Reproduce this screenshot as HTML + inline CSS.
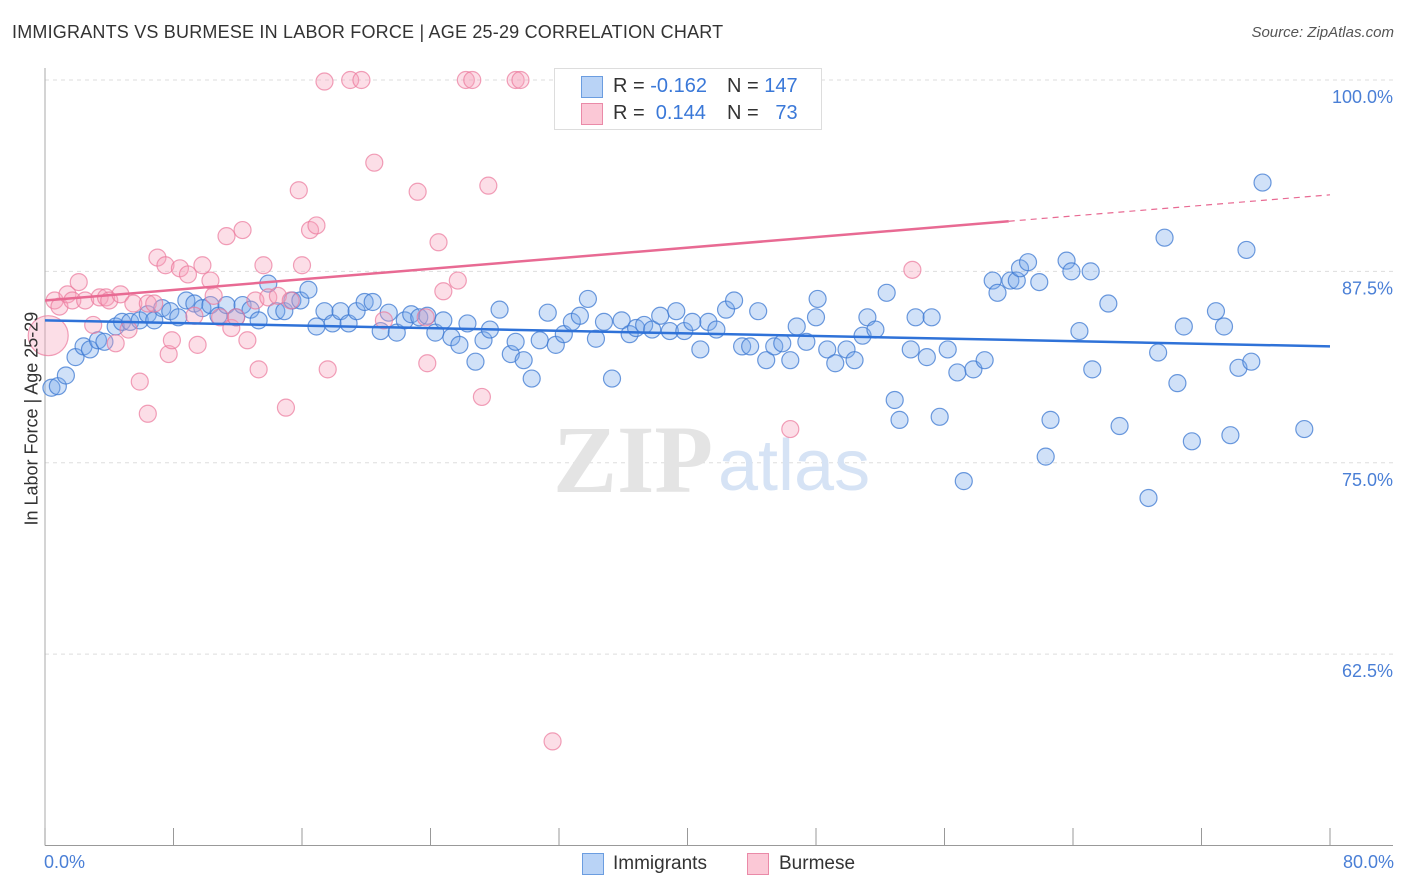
<!DOCTYPE html>
<html><head><meta charset="utf-8"><style>
body{margin:0;background:#fff;font-family:"Liberation Sans",sans-serif;}
#wrap{position:relative;width:1406px;height:892px;overflow:hidden}
.t{position:absolute;white-space:nowrap}
</style></head><body>
<div id="wrap">
<div class="t" style="left:12px;top:22px;font-size:18px;color:#333;letter-spacing:0.2px">IMMIGRANTS VS BURMESE IN LABOR FORCE | AGE 25-29 CORRELATION CHART</div>
<div class="t" style="right:12px;top:24px;font-size:15px;color:#555;font-style:italic">Source: ZipAtlas.com</div>
<svg id="svg" width="1406" height="892" style="position:absolute;left:0;top:0"></svg>
</div>
<script>
const xTicks=[0,8,16,24,32,40,48,56,64,72,80];
const yTicks=[100,87.5,75,62.5];
const yTickLabels=["100.0%","87.5%","75.0%","62.5%"];
const blueX=[0.4,0.8,1.3,1.9,2.4,2.8,3.3,3.7,4.4,4.8,5.3,5.9,6.4,6.8,7.3,7.8,8.3,8.8,9.3,9.8,10.3,10.8,11.3,11.9,12.3,12.8,13.3,13.9,14.4,14.9,15.4,15.9,16.4,16.9,17.4,17.9,18.4,18.9,19.4,19.9,20.4,20.9,21.4,21.9,22.4,22.8,23.3,23.8,24.3,24.8,25.3,25.8,26.3,26.8,27.3,27.7,28.3,29.0,29.3,29.8,30.3,30.8,31.3,31.8,32.3,32.8,33.3,33.8,34.3,34.8,35.3,35.9,36.4,36.8,37.3,37.8,38.3,38.9,39.3,39.8,40.3,40.8,41.3,41.8,42.4,42.9,43.4,43.9,44.4,44.9,45.4,45.9,46.4,46.8,47.4,48.1,48.0,48.7,49.2,49.9,50.4,50.9,51.2,51.7,52.4,52.9,53.2,53.9,54.2,54.9,55.2,55.7,56.2,56.8,57.2,57.8,58.5,59.0,59.3,60.1,60.5,60.7,61.2,61.9,62.3,62.6,63.6,63.9,64.4,65.1,65.2,66.2,66.9,68.7,69.3,69.7,70.5,70.9,71.4,72.9,73.4,73.8,74.3,74.8,75.1,75.8,78.4];
const blueY=[79.9,80.0,80.7,81.9,82.6,82.4,83.0,82.9,83.9,84.2,84.2,84.3,84.7,84.3,85.1,84.9,84.5,85.6,85.4,85.1,85.3,84.6,85.3,84.5,85.3,85.0,84.3,86.7,84.9,84.9,85.6,85.6,86.3,83.9,84.9,84.1,84.9,84.1,84.9,85.5,85.5,83.6,84.8,83.5,84.3,84.7,84.5,84.6,83.5,84.3,83.2,82.7,84.1,81.6,83.0,83.7,85.0,82.1,82.9,81.7,80.5,83.0,84.8,82.7,83.4,84.2,84.6,85.7,83.1,84.2,80.5,84.3,83.4,83.8,84.0,83.7,84.6,83.6,84.9,83.6,84.2,82.4,84.2,83.7,85.0,85.6,82.6,82.6,84.9,81.7,82.6,82.8,81.7,83.9,82.9,85.7,84.5,82.4,81.5,82.4,81.7,83.3,84.5,83.7,86.1,79.1,77.8,82.4,84.5,81.9,84.5,78.0,82.4,80.9,73.8,81.1,81.7,86.9,86.1,86.9,86.9,87.7,88.1,86.8,75.4,77.8,88.2,87.5,83.6,87.5,81.1,85.4,77.4,72.7,82.2,89.7,80.2,83.9,76.4,84.9,83.9,76.8,81.2,88.9,81.6,93.3,77.2];
const pinkX=[0.2,0.6,0.9,1.4,1.7,2.1,2.5,3.0,3.4,3.8,4.0,4.4,4.7,5.2,5.5,5.9,6.4,6.4,6.8,7.0,7.5,7.7,7.9,8.4,8.9,9.3,9.5,9.8,10.3,10.5,10.9,11.3,11.6,11.9,12.3,12.6,13.1,13.3,13.6,13.9,14.5,15.0,15.3,15.8,16.0,16.5,16.9,17.4,17.6,19.0,19.7,20.5,21.1,23.2,23.7,23.8,24.5,24.8,25.7,26.2,26.6,27.2,27.6,29.3,29.6,31.6,46.4,54.0];
const pinkY=[83.3,85.6,85.2,86.0,85.6,86.8,85.6,84.0,85.8,85.8,85.6,82.8,86.0,83.7,85.4,80.3,78.2,85.4,85.4,88.4,87.9,82.1,83.0,87.7,87.3,84.6,82.7,87.9,86.9,85.9,84.5,89.8,83.8,84.5,90.2,83.0,85.6,81.1,87.9,85.8,85.9,78.6,85.6,92.8,87.9,90.2,90.5,99.9,81.1,100,100,94.6,84.3,92.7,84.5,81.5,89.4,86.2,86.9,100,100,79.3,93.1,100,100,56.8,77.2,87.6];
const blueTrend=[84.3,82.6]; // y at x=0, x=80
const pinkTrend=[85.6,92.5];  // y at x=0, x=80
const pinkSolidEnd=60;

const NS="http://www.w3.org/2000/svg";
const svg=document.getElementById('svg');
const X0=45,X1=1330,YT=80,YB=845.5;
const sx=v=>X0+(v/80)*(X1-X0);
const sy=v=>YT+(100-v)/50*(YB-YT);
function mk(tag,attrs,parent){const e=document.createElementNS(NS,tag);for(const k in attrs)e.setAttribute(k,attrs[k]);(parent||svg).appendChild(e);return e;}

// gridlines
yTicks.forEach((v,i)=>{
  const g=mk('line',{x1:X0,x2:1393,y1:sy(v),y2:sy(v),stroke:'#ddd','stroke-dasharray':'4,4'});
  
  
  const t=mk('text',{x:1393,y:sy(v)+23,'text-anchor':'end','font-size':18,fill:'#4a7fd6','font-family':'Liberation Sans, sans-serif'});
  t.textContent=yTickLabels[i];
  
  
});
// axes
const ax=mk('line',{x1:X0,x2:1393,y1:YB,y2:YB,stroke:'#999'});


const ay=mk('line',{x1:X0,x2:X0,y1:68,y2:YB,stroke:'#aaa'});


xTicks.forEach(v=>{
  const l=mk('line',{x1:sx(v),x2:sx(v),y1:828,y2:YB,stroke:'#999'});
  
  
});
// watermark
const wm=mk('text',{x:553,y:492,'font-size':96,fill:'#e4e4e4','font-family':'Liberation Serif, serif','font-weight':'bold'});
wm.textContent='ZIP';


const wm2=mk('text',{x:718,y:490,'font-size':72,fill:'#d6e3f5','font-family':'Liberation Sans, sans-serif'});
wm2.textContent='atlas';



// points
blueX.forEach((x,i)=>{
  const c=mk('circle',{cx:sx(x),cy:sy(blueY[i]),r:8.5,fill:'rgba(120,170,235,0.35)',stroke:'rgba(60,120,210,0.75)','stroke-width':1.2});
  
  
});
pinkX.forEach((x,i)=>{
  const c=mk('circle',{cx:sx(x),cy:sy(pinkY[i]),r:i===0?20:8.5,fill:'rgba(245,160,185,0.35)',stroke:'rgba(235,120,155,0.7)','stroke-width':1.2});
  
  
});
// trend lines
const by=x=>blueTrend[0]+(blueTrend[1]-blueTrend[0])*x/80;
const py=x=>pinkTrend[0]+(pinkTrend[1]-pinkTrend[0])*x/80;
const bl=mk('line',{x1:sx(0),y1:sy(by(0)),x2:sx(80),y2:sy(by(80)),stroke:'#2f72d8','stroke-width':2.5});


const pl=mk('line',{x1:sx(0),y1:sy(py(0)),x2:sx(pinkSolidEnd),y2:sy(py(pinkSolidEnd)),stroke:'#e86a93','stroke-width':2.5});


const pd=mk('line',{x1:sx(pinkSolidEnd),y1:sy(py(pinkSolidEnd)),x2:sx(80),y2:sy(py(80)),stroke:'#e86a93','stroke-width':1.2,'stroke-dasharray':'6,5'});


</script>
<div class="t" style="left:-38px;top:445px;font-size:18px;color:#333;transform:rotate(-90deg);transform-origin:center;width:140px;text-align:center">In Labor Force | Age 25-29</div>
<div class="t" style="left:44px;top:852px;font-size:18px;color:#4a7fd6">0.0%</div>
<div class="t" style="right:12px;top:852px;font-size:18px;color:#4a7fd6">80.0%</div>
<div style="position:absolute;left:554px;top:68px;width:268px;height:62px;border:1px solid #ddd;background:#fff;box-sizing:border-box;font-size:20px">
  <div style="position:absolute;left:26px;top:7px;width:20px;height:20px;background:#b9d3f6;border:1px solid #6b9de0"></div>
  <div class="t" style="left:58px;top:6px;color:#333">R = <span style="color:#3a78d8">-0.162</span></div>
  <div class="t" style="left:172px;top:6px;color:#333">N = <span style="color:#3a78d8">147</span></div>
  <div style="position:absolute;left:26px;top:34px;width:20px;height:20px;background:#fbc8d6;border:1px solid #ea8aa8"></div>
  <div class="t" style="left:58px;top:33px;color:#333">R = &nbsp;<span style="color:#3a78d8">0.144</span></div>
  <div class="t" style="left:172px;top:33px;color:#333">N = &nbsp;&nbsp;<span style="color:#3a78d8">73</span></div>
</div>
<div style="position:absolute;left:582px;top:853px;width:20px;height:20px;background:#b9d3f6;border:1px solid #6b9de0"></div>
<div class="t" style="left:613px;top:853px;font-size:19px;color:#333">Immigrants</div>
<div style="position:absolute;left:747px;top:853px;width:20px;height:20px;background:#fbc8d6;border:1px solid #ea8aa8"></div>
<div class="t" style="left:779px;top:853px;font-size:19px;color:#333">Burmese</div>
</body></html>
